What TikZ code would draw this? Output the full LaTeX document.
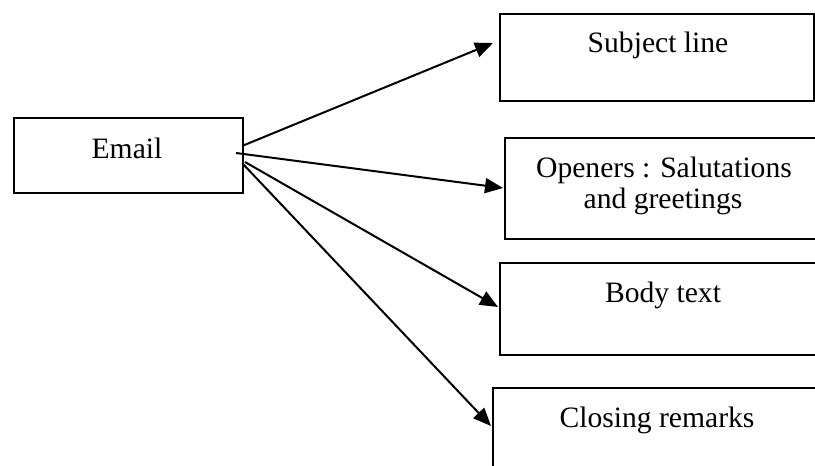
\documentclass[tikz,border=0pt]{standalone}
\usepackage{fontspec}
\setmainfont{Liberation Serif}
\usetikzlibrary{arrows.meta}
\begin{document}
\begin{tikzpicture}[x=0.5pt,y=-0.5pt,
  boxnode/.style={draw=black,line width=1pt,rectangle,inner sep=0pt,anchor=north west},
  lbl/.style={inner sep=0pt,anchor=base,font=\fontsize{14.8}{17}\selectfont},
  arr/.style={line width=1pt,-{Triangle[length=9pt,width=7.5pt]}}]
\useasboundingbox (0,0) rectangle (815,466);
\node[boxnode,minimum width=114.5pt,minimum height=37.5pt] (email) at (13,117) {};
\node[boxnode,minimum width=157pt,minimum height=43.5pt] (subj) at (499,13) {};
\node[boxnode,minimum width=160pt,minimum height=50.5pt] (open) at (504,137) {};
\node[boxnode,minimum width=163pt,minimum height=46pt] (body) at (499,262) {};
\node[boxnode,minimum width=167pt,minimum height=45pt] (close) at (492,387) {};
\node[lbl] (temail) at (127,158) {Email};
\node[lbl] (tsubj) at (658,53) {Subject line};
\node[lbl] (topen1) at (664,177) {Openers : Salutations};
\node[lbl] (topen2) at (663,208) {and greetings};
\node[lbl] (tbody) at (663,302) {Body text};
\node[lbl] (tclose) at (657,427) {Closing remarks};
\coordinate (s1) at (242,146);
\coordinate (s2) at (236,153);
\coordinate (s3) at (245,162);
\coordinate (s4) at (243,164);
\coordinate (e1) at (493,43);
\coordinate (e2) at (503,188);
\coordinate (e3) at (498,307);
\coordinate (e4) at (491,426);
\draw[arr] (s1) -- (e1);
\draw[arr] (s2) -- (e2);
\draw[arr] (s3) -- (e3);
\draw[arr] (s4) -- (e4);
\end{tikzpicture}
\end{document}
